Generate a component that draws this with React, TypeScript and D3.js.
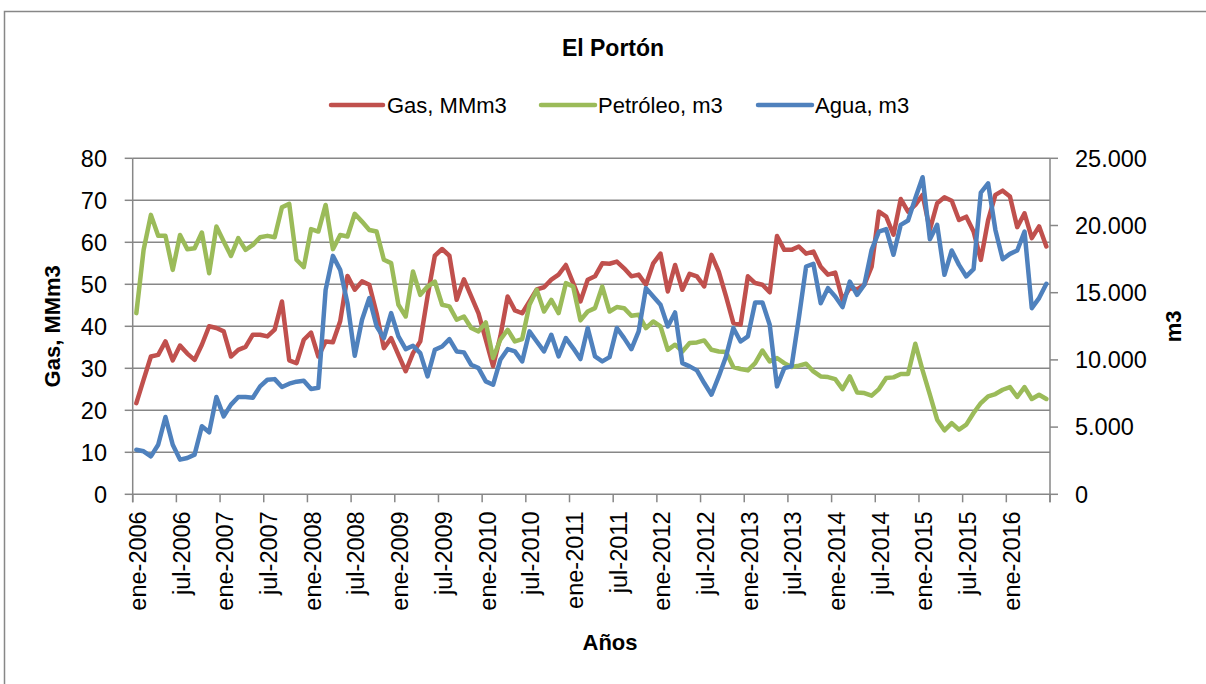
import React from "react";
import * as d3 from "d3";

const monthNames = ["ene", "feb", "mar", "abr", "may", "jun", "jul", "ago", "sep", "oct", "nov", "dic"];
const years = [2006, 2007, 2008, 2009, 2010, 2011, 2012, 2013, 2014, 2015, 2016];
const categories: string[] = [];
years.forEach((y) => monthNames.forEach((m) => categories.push(`${m}-${y}`)));
const cats = categories.slice(0, 126);

const gas = [
  21.7, 27.3, 32.8, 33.2, 36.4, 31.9, 35.4, 33.5, 32.0, 35.6, 40.0, 39.6,
  38.8, 32.8, 34.4, 35.1, 38.0, 38.0, 37.6, 39.2, 45.9, 31.9, 31.2, 36.8,
  38.5, 32.8, 36.4, 36.2, 41.2, 52.0, 48.7, 50.7, 49.9, 43.1, 34.8, 37.2,
  33.2, 29.3, 33.6, 36.4, 47.1, 56.8, 58.4, 56.8, 46.3, 51.2, 47.1, 43.1,
  36.8, 30.5, 37.6, 47.1, 43.8, 43.1, 45.9, 48.8, 49.3, 51.1, 52.3, 54.6,
  50.3, 45.9, 51.1, 51.9, 55.0, 54.9, 55.4, 53.8, 51.9, 52.3, 49.9, 55.0,
  57.3, 48.3, 54.6, 48.7, 52.5, 51.9, 49.5, 57.0, 53.0, 47.1, 40.8, 40.4,
  51.9, 50.3, 49.9, 48.1, 61.5, 58.2, 58.2, 59.0, 57.3, 57.8, 54.2, 52.3,
  52.8, 46.3, 49.1, 48.8, 49.9, 54.2, 67.3, 66.1, 61.8, 70.3, 67.3, 68.9,
  71.3, 63.0, 69.3, 70.7, 69.9, 65.3, 66.1, 62.6, 55.8, 65.3, 71.3, 72.3,
  70.9, 63.6, 66.9, 61.0, 63.8, 59.0,
];

const petroleo = [
  13480, 18190, 20790, 19230, 19230, 16700, 19300, 18240, 18310, 19480, 16450, 19920,
  18810, 17740, 19060, 18190, 18560, 19130, 19230, 19130, 21360, 21610, 17450, 16900,
  19730, 19550, 21530, 18240, 19300, 19180, 20870, 20290, 19670, 19550, 17450, 17200,
  14100, 13230, 16580, 14840, 15460, 15830, 14100, 13980, 12990, 13230, 12370, 12120,
  12790, 10140, 11500, 12240, 11370, 11550, 14100, 15210, 13600, 14470, 13480, 15710,
  15460, 12940, 13600, 13850, 15460, 13600, 13930, 13850, 13280, 13360, 12370, 12860,
  12490, 10750, 11130, 10630, 11250, 11300, 11450, 10750, 10630, 10580, 9470, 9320,
  9220, 9760, 10700, 9890, 10140, 9760, 9470, 9570, 9710, 9140, 8770, 8720,
  8570, 7830, 8770, 7580, 7530, 7340, 7830, 8650, 8700, 8950, 8950, 11200,
  9220, 7410, 5550, 4760, 5300, 4810, 5180, 6050, 6790, 7290, 7460, 7780,
  7980, 7240, 7980, 7090, 7410, 7090,
];

const agua = [
  3320, 3200, 2825, 3690, 5750, 3690, 2580, 2700, 2950, 5060, 4610, 7240,
  5800, 6670, 7240, 7240, 7190, 8030, 8520, 8570, 7980, 8230, 8380, 8450,
  7830, 7930, 15210, 17740, 16700, 14220, 10310, 12990, 14600, 12500, 11620, 13480,
  11750, 10800, 11050, 10510, 8770, 10750, 11000, 11550, 10630, 10560, 9640, 9390,
  8400, 8150, 10010, 10800, 10630, 9890, 12120, 11370, 10630, 11870, 10260, 11620,
  10880, 10060, 12370, 10260, 9890, 10210, 12370, 11620, 10800, 12120, 15340, 14720,
  14100, 12490, 13530, 9760, 9520, 9220, 8280, 7410, 8770, 10260, 12370, 11370,
  11750, 14270, 14270, 12610, 8030, 9390, 9520, 13110, 16950, 17150, 14220, 15340,
  14720, 13930, 15830, 14840, 15590, 18190, 19550, 19730, 17820, 20050, 20370, 22030,
  23590, 18980, 20050, 16330, 18140, 17070, 16210, 16750, 22450, 23140, 19670, 17490,
  17890, 18140, 19550, 13850, 14600, 15660,
];

const leftTicks = [0, 10, 20, 30, 40, 50, 60, 70, 80];
const rightTicks = [0, 5000, 10000, 15000, 20000, 25000];
const seriesNames = ["Gas, MMm3", "Petróleo, m3", "Agua, m3"];
const colors = ["#C0504D", "#9BBB59", "#4F81BD"];

const FONT = "'Liberation Sans', Arial, sans-serif";
const GRID = "#878787";

export default function App() {
  const left = 132.7;
  const right = 1050;
  const top = 158.3;
  const bottom = 494.3;

  const x = d3.scaleBand<string>().domain(cats).range([left, right]).padding(0);
  const bw = x.bandwidth();
  const cx = (i: number) => (x(cats[i]) as number) + bw / 2;
  const yL = d3.scaleLinear().domain([0, 80]).range([bottom, top]);
  const yR = d3.scaleLinear().domain([0, 25000]).range([bottom, top]);

  const es = d3.formatLocale({ decimal: ",", thousands: ".", grouping: [3], currency: ["", ""] });
  const fmt = es.format(",");

  const lineL = d3.line<number>().x((_, i) => cx(i)).y((d) => yL(d));
  const lineR = d3.line<number>().x((_, i) => cx(i)).y((d) => yR(d));

  const tickIdx = cats.map((_, i) => i).filter((i) => i % 6 === 0);

  const legendItems = [
    { x1: 331, x2: 383, tx: 387 },
    { x1: 541, x2: 595, tx: 598 },
    { x1: 758, x2: 812, tx: 815 },
  ];

  return (
    <div style={{ position: "absolute", left: 0, top: 0 }}>
      <svg width={1206} height={684} style={{ display: "block", background: "#fff" }} fontFamily={FONT}>
        <rect x={4.5} y={11.5} width={1220} height={700} fill="#fff" stroke={GRID} strokeWidth={1.5} />

        <text x={613} y={48} textAnchor="middle" dy="0.35em" fontWeight="bold" fontSize={23} fill="#000">
          El Portón
        </text>

        {legendItems.map((l, k) => (
          <g key={k}>
            <line x1={l.x1} x2={l.x2} y1={105} y2={105} stroke={colors[k]} strokeWidth={4.5} strokeLinecap="round" />
            <text x={l.tx} y={105} dy="0.35em" fontSize={22} fill="#000">
              {seriesNames[k]}
            </text>
          </g>
        ))}

        {/* gridlines */}
        {leftTicks.filter((t) => t > 0).map((t) => (
          <line key={t} x1={left} x2={right} y1={yL(t)} y2={yL(t)} stroke={GRID} strokeWidth={1.5} />
        ))}

        {/* left axis */}
        <line x1={left} x2={left} y1={top} y2={bottom + 8} stroke={GRID} strokeWidth={1.5} />
        {leftTicks.map((t) => (
          <g key={t}>
            <line x1={left - 8} x2={left} y1={yL(t)} y2={yL(t)} stroke={GRID} strokeWidth={1.5} />
            <text x={107} y={yL(t)} dy="0.35em" textAnchor="end" fontSize={23.5} fill="#000">
              {t}
            </text>
          </g>
        ))}

        {/* right axis */}
        <line x1={right} x2={right} y1={top} y2={bottom + 8} stroke={GRID} strokeWidth={1.5} />
        {rightTicks.map((t) => (
          <g key={t}>
            <line x1={right} x2={right + 8} y1={yR(t)} y2={yR(t)} stroke={GRID} strokeWidth={1.5} />
            <text x={1075} y={yR(t)} dy="0.35em" textAnchor="start" fontSize={23.5} fill="#000">
              {fmt(t)}
            </text>
          </g>
        ))}

        {/* x axis */}
        <line x1={left} x2={right} y1={bottom} y2={bottom} stroke={GRID} strokeWidth={1.5} />
        {tickIdx.map((i) => (
          <line key={"t" + i} x1={x(cats[i])} x2={x(cats[i])} y1={bottom} y2={bottom + 8} stroke={GRID} strokeWidth={1.5} />
        ))}
        <line x1={right} x2={right} y1={bottom} y2={bottom + 8} stroke={GRID} strokeWidth={1.5} />
        {tickIdx.map((i) => (
          <text
            key={"l" + i}
            transform={`translate(${cx(i) + 1.5},${bottom + 17}) rotate(-90)`}
            textAnchor="end"
            dy="0.35em"
            fontSize={23.5}
            fill="#000"
          >
            {cats[i]}
          </text>
        ))}

        {/* axis titles */}
        <text transform={`translate(52,${(top + bottom) / 2}) rotate(-90)`} textAnchor="middle" dy="0.35em" fontWeight="bold" fontSize={22}>
          Gas, MMm3
        </text>
        <text transform={`translate(1173,${(top + bottom) / 2}) rotate(-90)`} textAnchor="middle" dy="0.35em" fontWeight="bold" fontSize={22}>
          m3
        </text>
        <text x={610} y={642} textAnchor="middle" dy="0.35em" fontWeight="bold" fontSize={22}>
          Años
        </text>

        {/* series */}
        <path d={lineL(gas) || ""} fill="none" stroke={colors[0]} strokeWidth={4.5} strokeLinejoin="round" strokeLinecap="round" />
        <path d={lineR(petroleo) || ""} fill="none" stroke={colors[1]} strokeWidth={4.5} strokeLinejoin="round" strokeLinecap="round" />
        <path d={lineR(agua) || ""} fill="none" stroke={colors[2]} strokeWidth={4.5} strokeLinejoin="round" strokeLinecap="round" />
      </svg>
    </div>
  );
}
